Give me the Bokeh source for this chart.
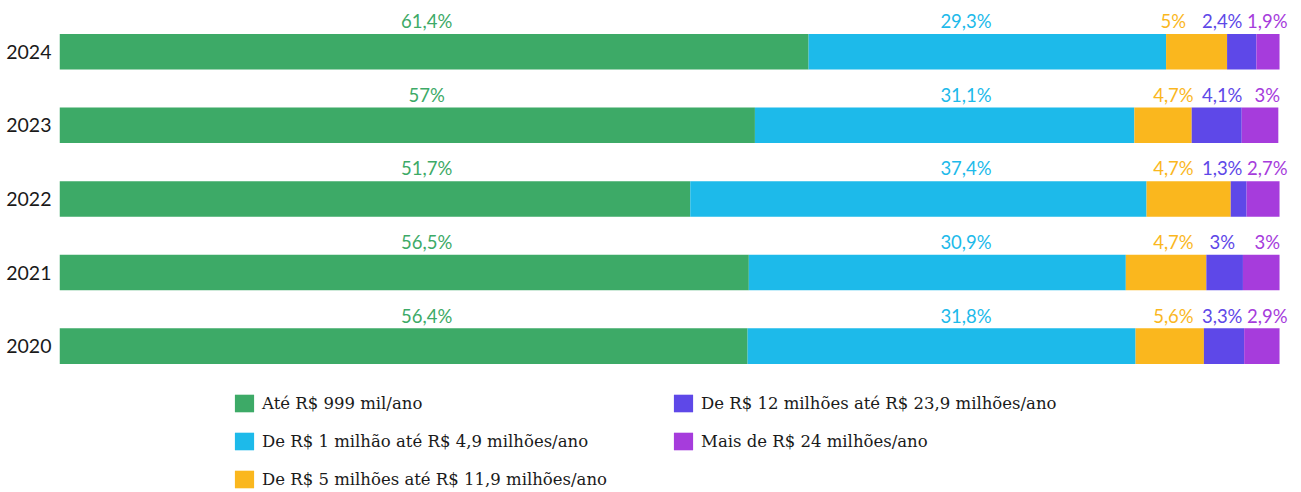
import numpy as np
from bokeh.plotting import figure
from bokeh.models import (ColumnDataSource, Range1d, FixedTicker, Legend, LegendItem)
from bokeh.core.properties import value
from bokeh.embed import file_html
from bokeh.resources import INLINE

# ---- data ----
years = ["2020", "2021", "2022", "2023", "2024"]
series_names = [
    "Até R$ 999 mil/ano",
    "De R$ 1 milhão até R$ 4,9 milhões/ano",
    "De R$ 5 milhões até R$ 11,9 milhões/ano",
    "De R$ 12 milhões até R$ 23,9 milhões/ano",
    "Mais de R$ 24 milhões/ano",
]
# bar widths as drawn (percent)
ate_999 = [56.4, 56.5, 51.7, 57.0, 61.4]
de_1_a_4_9 = [31.8, 30.9, 37.4, 31.1, 29.3]
de_5_a_11_9 = [5.6, 6.6, 6.9, 4.7, 5.0]
de_12_a_23_9 = [3.3, 3.0, 1.3, 4.1, 2.4]
mais_24 = [2.9, 3.0, 2.7, 3.0, 1.9]
# value labels as printed
labels_ate_999 = ["56,4%", "56,5%", "51,7%", "57%", "61,4%"]
labels_de_1 = ["31,8%", "30,9%", "37,4%", "31,1%", "29,3%"]
labels_de_5 = ["5,6%", "4,7%", "4,7%", "4,7%", "5%"]
labels_de_12 = ["3,3%", "3%", "1,3%", "4,1%", "2,4%"]
labels_mais_24 = ["2,9%", "3%", "2,7%", "3%", "1,9%"]

series_values = [ate_999, de_1_a_4_9, de_5_a_11_9, de_12_a_23_9, mais_24]
series_labels = [labels_ate_999, labels_de_1, labels_de_5, labels_de_12, labels_mais_24]

# ---- style ----
colors = ["#3DAA67", "#1DBAEA", "#FAB71E", "#5E48E8", "#A63CDC"]
label_anchor = [30.1, 74.3, 91.3, 95.3, 99.0]   # label column positions (x scale units)
BAR_H = 0.483
PX_PER_UNIT = 72.5
LABEL_GAP = 12.5 / PX_PER_UNIT
LABEL_FONT = "Lato"

p = figure(width=1296, height=490, output_backend="svg", toolbar_location=None,
           x_range=Range1d(0, 101.39), y_range=Range1d(-1.9621, 4.6966),
           x_axis_location=None, min_border_left=59, min_border_right=0,
           min_border_top=0, min_border_bottom=0)
p.outline_line_color = None
p.xgrid.visible = False
p.ygrid.visible = False
p.background_fill_color = "white"
p.border_fill_color = "white"

ypos = np.arange(len(years))
left = np.zeros(len(years))
items = []
for name, vals, labs, col, ax in zip(series_names, series_values, series_labels, colors, label_anchor):
    vals = np.array(vals, dtype=float)
    src = ColumnDataSource(dict(y=ypos, left=left.copy(), right=left + vals,
                                ty=ypos + BAR_H / 2 + LABEL_GAP, tx=[ax] * len(years), txt=labs))
    r = p.hbar(y="y", left="left", right="right", height=BAR_H, source=src,
               fill_color=col, line_color=None)
    p.text(x="tx", y="ty", text="txt", source=src, text_align="center",
           text_baseline="alphabetic", text_color=col,
           text_font=value(LABEL_FONT), text_font_size="18.5px")
    items.append(LegendItem(label=name, renderers=[r]))
    left = left + vals

yax = p.yaxis[0]
yax.ticker = FixedTicker(ticks=list(ypos))
yax.major_label_overrides = {int(i): y for i, y in zip(ypos, years)}
yax.axis_line_color = None
yax.major_tick_line_color = None
yax.minor_tick_line_color = None
yax.major_tick_out = 0
yax.major_tick_in = 0
yax.major_label_standoff = 8
yax.major_label_text_font = LABEL_FONT
yax.major_label_text_font_size = "19.5px"
yax.major_label_text_color = "#1a1a1a"

legend = Legend(items=items, location=(173, 0), orientation="vertical", nrows=3,
                glyph_width=24, glyph_height=22, label_height=22, label_width=393,
                label_standoff=6, spacing=16, padding=0, margin=0,
                border_line_color=None, background_fill_alpha=0,
                label_text_font="DejaVu Serif", label_text_font_size="16.5px",
                label_text_color="#1a1a1a")
p.add_layout(legend, "center")

open("out.html", "w").write(file_html(p, INLINE))
